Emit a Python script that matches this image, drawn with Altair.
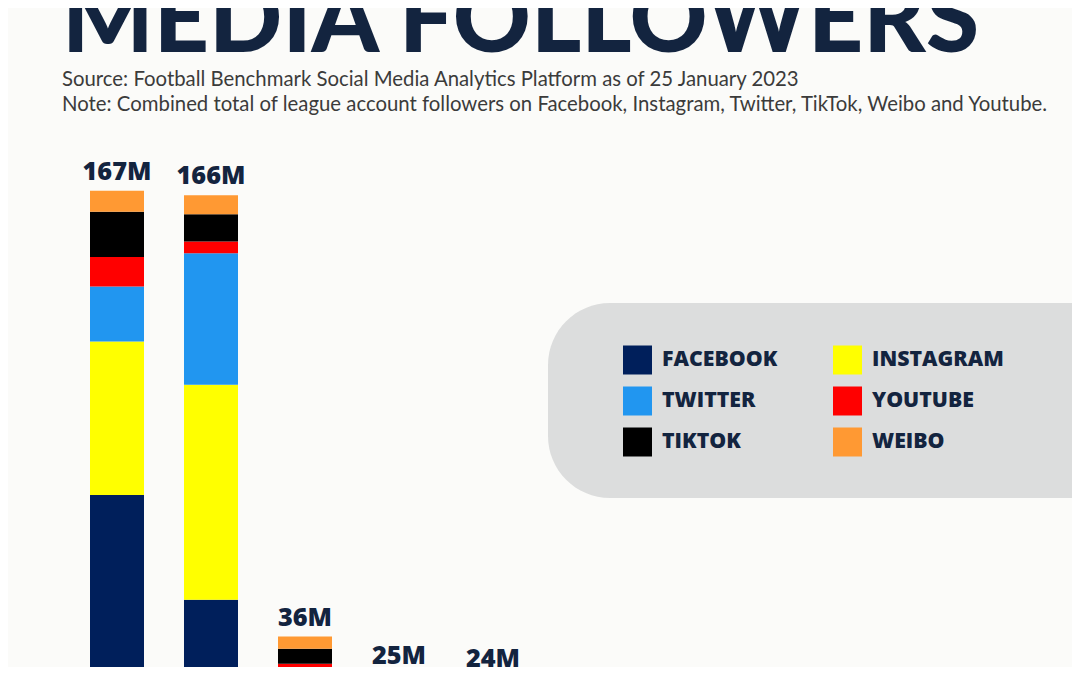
import altair as alt
import pandas as pd

# ---- data ----
leagues = ["Premier League", "LaLiga", "Bundesliga", "Serie A", "Ligue 1"]
totals = [167, 166, 36, 25, 24]
total_labels = ["167M", "166M", "36M", "25M", "24M"]

platforms = ["FACEBOOK", "INSTAGRAM", "TWITTER", "YOUTUBE", "TIKTOK", "WEIBO"]
colors = ["#001f5b", "#ffff00", "#2196f0", "#ff0000", "#000000", "#ff9933"]

facebook = [77.5, 46.8, 10.0, 6.0, 5.0]
instagram = [45.1, 63.1, 10.0, 9.0, 8.0]
twitter = [16.2, 38.6, 4.0, 4.0, 4.5]
youtube = [8.6, 3.5, 4.0, 2.0, 2.0]
tiktok = [13.3, 8.0, 4.4, 3.0, 4.0]
weibo = [6.2, 5.6, 3.6, 0.5, 0.5]

title_text = "MEDIA FOLLOWERS"
source_text = "Source: Football Benchmark Social Media Analytics Platform as of 25 January 2023"
note_text = "Note: Combined total of league account followers on Facebook, Instagram, Twitter, TikTok, Weibo and Youtube."

series = [facebook, instagram, twitter, youtube, tiktok, weibo]
rows = []
for pi, (p, vals) in enumerate(zip(platforms, series)):
    for league, v in zip(leagues, vals):
        rows.append({"league": league, "platform": p, "value": v, "idx": pi})
df = pd.DataFrame(rows)
tot_df = pd.DataFrame({"league": leagues, "total": totals, "label": total_labels})
one = pd.DataFrame({"k": [0]})

NAVY = "#13243f"
W, H = 1064, 659
ZERO_Y, PX_PER_M = 751.0, 3.405

xscale = alt.Scale(domain=leagues, range=[82, 512], paddingInner=0.4255, paddingOuter=0, round=False)
yscale = alt.Scale(domain=[(ZERO_Y - H) / PX_PER_M, ZERO_Y / PX_PER_M], zero=False, nice=False)

box = alt.Chart(one).mark_rect(clip=True, cornerRadius=62, color="#dcdddd").encode(
    x=alt.value(540), x2=alt.value(1140), y=alt.value(295), y2=alt.value(490)
)

bars = alt.Chart(df).mark_bar(clip=True).encode(
    x=alt.X("league:N", sort=leagues, scale=xscale, axis=None),
    y=alt.Y("value:Q", stack="zero", scale=yscale, axis=None),
    color=alt.Color(
        "platform:N",
        scale=alt.Scale(domain=platforms, range=colors),
        legend=alt.Legend(
            orient="none", direction="horizontal", legendX=615, legendY=337.5, columns=2, title=None,
            symbolType="square", symbolSize=841, symbolStrokeWidth=0, symbolOpacity=1,
            labelFont="Open Sans", labelFontWeight=800, labelFontSize=21.3,
            labelColor=NAVY, labelOffset=10, rowPadding=12, columnPadding=55,
            padding=0, labelLimit=400,
        ),
    ),
    order=alt.Order("idx:Q"),
)

labels = alt.Chart(tot_df).mark_text(
    dy=-10, baseline="alphabetic", font="Open Sans", fontWeight=800, fontSize=25.3, color=NAVY
).encode(
    x=alt.X("league:N", sort=leagues, scale=xscale, axis=None),
    y=alt.Y("total:Q", scale=yscale, axis=None),
    text="label:N",
)

title = alt.Chart(one).mark_text(
    text=title_text, align="left", baseline="alphabetic", font="Lato",
    fontWeight=900, fontSize=96.4, color=NAVY
).encode(x=alt.value(54), y=alt.value(44))

sub1 = alt.Chart(one).mark_text(
    text=source_text, align="left", baseline="alphabetic", font="Lato", fontSize=20.35, color="#3b3b3b"
).encode(x=alt.value(54), y=alt.value(78))

sub2 = alt.Chart(one).mark_text(
    text=note_text, align="left", baseline="alphabetic", font="Lato", fontSize=20.35, color="#3b3b3b"
).encode(x=alt.value(54), y=alt.value(103))

chart = alt.layer(box, bars, labels, title, sub1, sub2).properties(
    width=W, height=H, autosize=alt.AutoSizeParams(type="none"), padding=0,
    background="#fbfbf9",
).configure_view(stroke=None)

chart.save("out.html", embed_options={"renderer": "svg", "actions": False})
